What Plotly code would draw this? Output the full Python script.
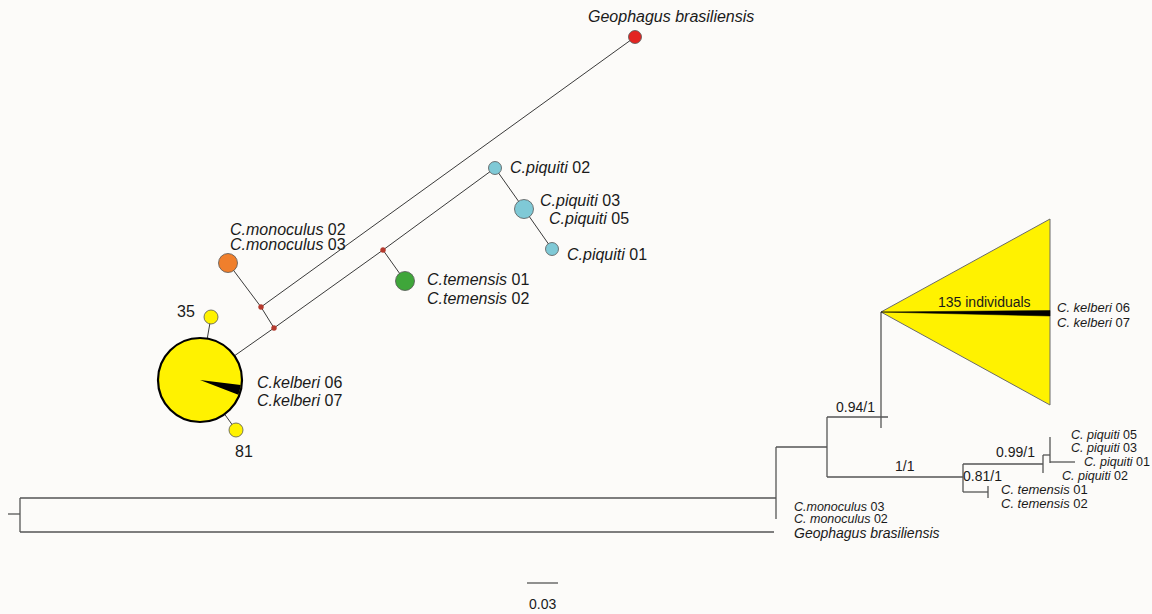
import plotly.graph_objects as go
import math

# ---------------- Haplotype network ----------------
node_names = ["kelberi", "k35", "k81", "monoculus", "med1", "med2", "med3",
              "temensis", "piq02", "piq0305", "piq01", "geophagus"]
node_x = [200, 211, 236, 228, 261, 274, 383, 405, 495, 524, 552, 635]
node_y = [380, 317, 430, 263, 307, 328, 250, 281, 168, 209, 249, 37]
node_r = [42, 7, 7, 9.5, 2.5, 2.5, 2.5, 9.5, 6.5, 9.5, 6.5, 6.5]
node_fill = ["#FFF200", "#FFF200", "#FFF200", "#F07F2C", "#B53A2E", "#B53A2E",
             "#B53A2E", "#3FA63A", "#7FC9D6", "#7FC9D6", "#7FC9D6", "#E32522"]
node_line = ["#000000", "#555555", "#555555", "#555555", "#B53A2E", "#B53A2E",
             "#B53A2E", "#555555", "#555555", "#555555", "#555555", "#555555"]
node_lw = [2.2, 0.8, 0.8, 0.8, 0.5, 0.5, 0.5, 0.8, 0.8, 0.8, 0.8, 0.8]

net_edges = [("kelberi", "k35"), ("kelberi", "k81"), ("kelberi", "med2"),
             ("med2", "med1"), ("med1", "monoculus"), ("med1", "geophagus"),
             ("med2", "med3"), ("med3", "temensis"), ("med3", "piq02"),
             ("piq02", "piq0305"), ("piq0305", "piq01")]

wedge_angles = [7, 21]  # degrees below horizontal, kelberi 06/07 share

net_labels = ["<i>Geophagus brasiliensis</i>",
              "<i>C.monoculus</i> 02", "<i>C.monoculus</i> 03",
              "<i>C.kelberi</i> 06", "<i>C.kelberi</i> 07",
              "<i>C.piquiti</i> 02", "<i>C.piquiti</i> 03", "<i>C.piquiti</i> 05",
              "<i>C.piquiti</i> 01",
              "<i>C.temensis</i> 01", "<i>C.temensis</i> 02",
              "35", "81"]
net_label_x = [586, 228, 228, 255, 255, 508, 538, 547, 565, 425, 425, 186, 244]
net_label_y = [16, 229, 244, 382, 400, 167, 200, 218, 254, 279, 298, 311, 451]
net_label_anchor = ["left", "left", "left", "left", "left", "left", "left",
                    "left", "left", "left", "left", "center", "center"]

# ---------------- Phylogenetic tree ----------------
tree_x0 = [8, 20, 20, 20, 776, 776, 827, 827, 881, 827, 963, 963, 1043, 1043,
           1050, 1050, 963, 988]
tree_y0 = [514, 498, 498, 532, 447, 447, 417, 417, 312, 477, 464, 464, 455, 455,
           437, 462, 492, 486]
tree_x1 = [20, 20, 776, 774, 776, 827, 827, 888, 881, 963, 963, 1043, 1043, 1050,
           1050, 1075, 988, 988]
tree_y1 = [514, 532, 498, 532, 519, 447, 477, 417, 428, 477, 492, 464, 473, 455,
           463, 462, 492, 498]

clade_apex = (881, 312)
clade_top = 219
clade_bottom = 405
clade_right = 1050
clade_black = (310.5, 316)

tree_labels = ["0.94/1", "1/1", "0.99/1", "0.81/1", "135 individuals",
               "<i>C. kelberi</i> 06", "<i>C. kelberi</i> 07",
               "<i>C. piquiti</i> 05", "<i>C. piquiti</i> 03", "<i>C. piquiti</i> 01",
               "<i>C. piquiti</i> 02",
               "<i>C. temensis</i> 01", "<i>C. temensis</i> 02",
               "<i>C.monoculus</i> 03", "<i>C. monoculus</i> 02",
               "<i>Geophagus brasiliensis</i>", "0.03"]
tree_label_x = [855, 905, 1015, 982, 984, 1055, 1055, 1069, 1069, 1082, 1060,
                999, 999, 792, 792, 792, 542]
tree_label_y = [407, 466, 452, 476, 302, 307, 322, 435, 448, 462, 476,
                489, 503, 507, 519, 533, 604]
tree_label_size = [14, 14, 14, 14, 14, 13, 13, 12.5, 12.5, 12.5, 12.5, 13, 13,
                   12.5, 12.5, 14, 14]
tree_label_anchor = ["center"] * 5 + ["left"] * 11 + ["center"]

scale_bar = (527, 558, 583)

# ---------------- build figure ----------------
fig = go.Figure()
idx = {n: i for i, n in enumerate(node_names)}

ex, ey = [], []
for a, b in net_edges:
    ex += [node_x[idx[a]], node_x[idx[b]], None]
    ey += [node_y[idx[a]], node_y[idx[b]], None]
fig.add_trace(go.Scatter(x=ex, y=ey, mode="lines",
                         line=dict(color="#3a3a3a", width=1), hoverinfo="skip"))

tx, ty = [], []
for x0, y0, x1, y1 in zip(tree_x0, tree_y0, tree_x1, tree_y1):
    tx += [x0, x1, None]
    ty += [y0, y1, None]
tx += [scale_bar[0], scale_bar[1], None]
ty += [scale_bar[2], scale_bar[2], None]
fig.add_trace(go.Scatter(x=tx, y=ty, mode="lines",
                         line=dict(color="#555555", width=1.3), hoverinfo="skip"))

shapes = []
for i in range(len(node_names)):
    r = node_r[i]
    shapes.append(dict(type="circle", xref="x", yref="y",
                       x0=node_x[i] - r, x1=node_x[i] + r,
                       y0=node_y[i] - r, y1=node_y[i] + r,
                       fillcolor=node_fill[i],
                       line=dict(color=node_line[i], width=node_lw[i])))

# black wedge in kelberi circle
cx, cy, cr = node_x[0], node_y[0], node_r[0] - 1
pts = [(cx, cy)]
for k in range(11):
    ang = math.radians(wedge_angles[0] + (wedge_angles[1] - wedge_angles[0]) * k / 10)
    pts.append((cx + cr * math.cos(ang), cy + cr * math.sin(ang)))
path = "M " + " L ".join(f"{px:.2f},{py:.2f}" for px, py in pts) + " Z"
shapes.append(dict(type="path", xref="x", yref="y", path=path,
                   fillcolor="#000000", line=dict(width=0)))

# collapsed clade triangle
ax_, ay_ = clade_apex
shapes.append(dict(type="path", xref="x", yref="y",
                   path=f"M {ax_},{ay_} L {clade_right},{clade_top} L {clade_right},{clade_bottom} Z",
                   fillcolor="#FFF200", line=dict(color="#6b6b6b", width=1), layer="below"))
shapes.append(dict(type="path", xref="x", yref="y",
                   path=f"M {ax_},{ay_} L {clade_right},{clade_black[0]} L {clade_right},{clade_black[1]} Z",
                   fillcolor="#000000", line=dict(color="#000000", width=0.5)))

annotations = []
font_family = "Liberation Sans, Arial, sans-serif"
for t, x, y, a in zip(net_labels, net_label_x, net_label_y, net_label_anchor):
    annotations.append(dict(x=x, y=y, xref="x", yref="y", text=t, showarrow=False,
                            xanchor=a, yanchor="middle",
                            font=dict(size=16, color="#1a1a1a", family=font_family)))
for t, x, y, s, a in zip(tree_labels, tree_label_x, tree_label_y, tree_label_size,
                         tree_label_anchor):
    annotations.append(dict(x=x, y=y, xref="x", yref="y", text=t, showarrow=False,
                            xanchor=a, yanchor="middle",
                            font=dict(size=s, color="#1a1a1a", family=font_family)))

fig.update_layout(
    width=1152, height=614,
    margin=dict(l=0, r=0, t=0, b=0),
    paper_bgcolor="#FCFBF9", plot_bgcolor="#FCFBF9",
    showlegend=False,
    xaxis=dict(range=[0, 1152], visible=False, fixedrange=True),
    yaxis=dict(range=[614, 0], visible=False, fixedrange=True),
    shapes=shapes, annotations=annotations,
)

fig.write_html("out.html", config={"displayModeBar": False},
               post_script="document.body.style.margin='0';"
                           "document.body.style.overflow='hidden';"
                           "document.body.style.background='#FCFBF9';")
